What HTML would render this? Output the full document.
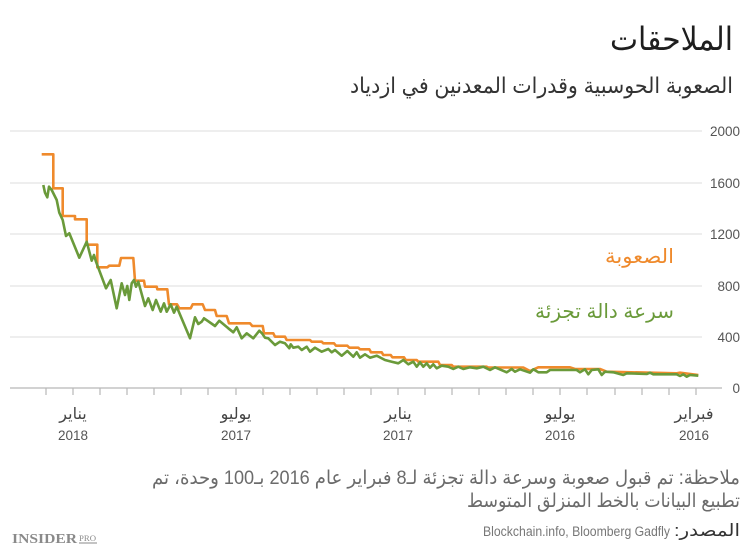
<!DOCTYPE html>
<html>
<head>
<meta charset="utf-8">
<style>
  html,body{margin:0;padding:0;background:#fff;}
  svg{display:block;}
  .ar{font-family:"Liberation Sans","DejaVu Sans",sans-serif;}
  .lat{font-family:"Liberation Sans",sans-serif;}
</style>
</head>
<body>
<svg width="750" height="558" viewBox="0 0 750 558" xmlns="http://www.w3.org/2000/svg">
  <rect width="750" height="558" fill="#fff"/>

  <!-- Title & subtitle -->
  <text class="ar" x="733" y="50" font-size="32" fill="#1e1e1e" direction="rtl" unicode-bidi="embed" text-anchor="start" textLength="123" lengthAdjust="spacingAndGlyphs">الملاحقات</text>
  <text class="ar" x="733" y="93" font-size="22" fill="#333" direction="rtl" unicode-bidi="embed" text-anchor="start" textLength="383" lengthAdjust="spacingAndGlyphs">الصعوبة الحوسبية وقدرات المعدنين في ازدياد</text>

  <!-- Gridlines -->
  <g stroke="#e4e4e4" stroke-width="1.3">
    <line x1="10" y1="131" x2="702" y2="131"/>
    <line x1="10" y1="183" x2="702" y2="183"/>
    <line x1="10" y1="234" x2="702" y2="234"/>
    <line x1="10" y1="286" x2="702" y2="286"/>
    <line x1="10" y1="337" x2="702" y2="337"/>
  </g>
  <line x1="10" y1="388" x2="722" y2="388" stroke="#b8b8b8" stroke-width="1.2"/>

  <!-- ticks -->
  <g stroke="#b8b8b8" stroke-width="1.2">
    <line x1="46" y1="388" x2="46" y2="395"/><line x1="73" y1="388" x2="73" y2="395"/>
    <line x1="100" y1="388" x2="100" y2="395"/><line x1="127" y1="388" x2="127" y2="395"/>
    <line x1="154" y1="388" x2="154" y2="395"/><line x1="181" y1="388" x2="181" y2="395"/>
    <line x1="208" y1="388" x2="208" y2="395"/><line x1="236" y1="388" x2="236" y2="395"/>
    <line x1="263" y1="388" x2="263" y2="395"/><line x1="290" y1="388" x2="290" y2="395"/>
    <line x1="317" y1="388" x2="317" y2="395"/><line x1="344" y1="388" x2="344" y2="395"/>
    <line x1="371" y1="388" x2="371" y2="395"/><line x1="398" y1="388" x2="398" y2="395"/>
    <line x1="425" y1="388" x2="425" y2="395"/><line x1="452" y1="388" x2="452" y2="395"/>
    <line x1="479" y1="388" x2="479" y2="395"/><line x1="506" y1="388" x2="506" y2="395"/>
    <line x1="533" y1="388" x2="533" y2="395"/><line x1="560" y1="388" x2="560" y2="395"/>
    <line x1="587" y1="388" x2="587" y2="395"/><line x1="615" y1="388" x2="615" y2="395"/>
    <line x1="642" y1="388" x2="642" y2="395"/><line x1="669" y1="388" x2="669" y2="395"/>
    <line x1="696" y1="388" x2="696" y2="395"/>
  </g>

  <!-- Y labels -->
  <g class="lat" font-size="13.5" fill="#555" text-anchor="end">
    <text x="740" y="136">2000</text>
    <text x="740" y="188">1600</text>
    <text x="740" y="239">1200</text>
    <text x="740" y="291">800</text>
    <text x="740" y="342">400</text>
    <text x="740" y="393">0</text>
  </g>

  <!-- X labels -->
  <g class="ar" font-size="16" fill="#444" text-anchor="middle">
    <text x="73" y="419">يناير</text>
    <text x="236" y="419">يوليو</text>
    <text x="398" y="419">يناير</text>
    <text x="560" y="419">يوليو</text>
    <text x="694" y="419">فبراير</text>
  </g>
  <g class="lat" font-size="13.5" fill="#555" text-anchor="middle">
    <text x="73" y="440">2018</text>
    <text x="236" y="440">2017</text>
    <text x="398" y="440">2017</text>
    <text x="560" y="440">2016</text>
    <text x="694" y="440">2016</text>
  </g>

  <!-- Difficulty (orange) -->
  <polyline fill="none" stroke="#ef8a2c" stroke-width="2.6" stroke-linejoin="round" points="
41.7,154.3 53.3,154.3 53.3,188.3 62.7,188.3 62.7,216 75,216 75,219.3 86.7,219.3 86.7,244.7 97.3,244.7 97.3,267.3 107.3,267.3 109.3,265.7 119.3,265.7 121,258 133.3,258 135,280.7 144,280.7 145,286.7 156.7,286.7 157.3,289.3 167.3,289.3 169,304.3 177,304.3 179.3,308.3 190.7,308.3 192.7,304.3 202.7,304.3 205,310 215,310 216.7,316 226.7,316 229,323.3 250,323.3 252.3,326 262.7,326 264,333.3 273.3,333.3 275,336.7 285,336.7 286.7,340 310,340 311.7,341.7 321.7,341.7 323.3,343.3 334,343.3 336,345.7 347.3,345.7 349.3,347.7 358.3,347.7 360,349.3 369.3,349.3 371,352.3 381.7,352.3 383.3,355 390.7,355 392.3,357.3 404,357.3 405.7,360 416.7,360 418.3,361.7 438.3,361.7 440,365 451.7,365 453.3,366.7 486.7,366.7 488,367.5 523.3,367.5 530,371 538.3,367.3 570,367.3 575,369 600,369 606.7,371.7 676.7,373.3 680,372.7 698.3,375"/>

  <!-- Hash rate (green) -->
  <polyline fill="none" stroke="#6a9a3a" stroke-width="2.6" stroke-linejoin="round" points="
43.3,185 45,192.7 47.3,197.3 49,186.7 51.7,190 56.7,200 59.3,212.7 62.7,220 66,236 69.3,233.3 79.3,257.7 86.7,241.7 91.7,260.7 94,255 96,261.7 106,288.3 110.7,280 116.7,308.3 121.7,283.3 125,295 127.3,286 129.3,300 131.7,283.3 134,280 136,286.7 138.3,281.7 145,306 148.3,298.3 152.7,310 156,300 160.7,311.7 164,303.3 166.7,311.7 170.7,304.3 174,312.7 176.7,306.7 190,338.3 195,317.3 198.3,324 201.7,321.7 204,318.3 215,326 219.3,320.7 228.3,328.3 233.3,332.3 236.7,327.3 241.7,338.3 246.7,333.3 253.3,338.3 259.3,330.7 262,333.3 265,337.7 268.3,338.3 275,345 280,341.7 285,343.3 289.3,348.3 290.7,344.3 293.3,347.7 298.3,346.7 301.7,350 306.7,346.7 310,351.7 315,347.7 321.7,351.7 328.3,349 331.7,352.3 335,350 341.7,355.7 347.3,351 353.3,356.7 356.7,352.3 360,357.7 365,354.3 370,357.7 376.7,355.7 385,360 391.7,361.7 398.3,363.3 403.3,360 408.3,364.3 413.3,361.7 416.7,366.7 420,362.3 423.3,366.7 426.7,363.3 430,367.7 433.3,364.3 436.7,368.3 441.7,365.7 448.3,366.7 453.3,369 458.3,366.7 463.3,369 470,367.3 476.7,368.3 483.3,366.7 490,370 495,367.3 506.7,372.3 511.7,369 515,371.7 520,369.3 530,372.7 533.3,369.3 538.3,372.3 546.7,372.3 550,370 576.7,370 580,372.3 585,369.3 588.3,374.3 591.7,370 598.3,369.3 601.7,375 605,371.7 613.3,372.3 623.3,375 626.7,373.3 646.7,374 650,372.7 653.3,374.3 676.7,374.3 680,376 683.3,374.3 686.7,376.7 690,375 698.3,375.7"/>

  <!-- Legend labels -->
  <text class="ar" x="674" y="263" font-size="20" fill="#ef8a2c" direction="rtl" unicode-bidi="embed" text-anchor="start" textLength="69" lengthAdjust="spacingAndGlyphs">الصعوبة</text>
  <text class="ar" x="674" y="318" font-size="20" fill="#6a9a3a" direction="rtl" unicode-bidi="embed" text-anchor="start" textLength="139" lengthAdjust="spacingAndGlyphs">سرعة دالة تجزئة</text>

  <!-- Notes -->
  <text class="ar" x="740" y="484" font-size="19" fill="#6b6b6b" direction="rtl" unicode-bidi="embed" text-anchor="start" textLength="588" lengthAdjust="spacingAndGlyphs">ملاحظة: تم قبول صعوبة وسرعة دالة تجزئة لـ8 فبراير عام 2016 بـ100 وحدة، تم</text>
  <text class="ar" x="740" y="507" font-size="19" fill="#6b6b6b" direction="rtl" unicode-bidi="embed" text-anchor="start" textLength="273" lengthAdjust="spacingAndGlyphs">تطبيع البيانات بالخط المنزلق المتوسط</text>

  <!-- Source -->
  <text class="ar" x="740" y="536" font-size="17" fill="#333" direction="rtl" unicode-bidi="embed" text-anchor="start" textLength="66" lengthAdjust="spacingAndGlyphs">المصدر:</text>
  <text class="lat" x="483" y="536" font-size="13.5" fill="#777" textLength="187" lengthAdjust="spacingAndGlyphs">Blockchain.info, Bloomberg Gadfly</text>

  <!-- Logo -->
  <text x="12" y="543" font-family="'Liberation Serif',serif" font-weight="bold" font-size="14" fill="#8a8a8a" textLength="65" lengthAdjust="spacingAndGlyphs">INSIDER</text>
  <text x="79" y="541" font-family="'Liberation Serif',serif" font-size="8" fill="#8a8a8a" textLength="17" lengthAdjust="spacingAndGlyphs">PRO</text>
  <line x1="79" y1="543" x2="97" y2="543" stroke="#8a8a8a" stroke-width="1"/>
</svg>
</body>
</html>
